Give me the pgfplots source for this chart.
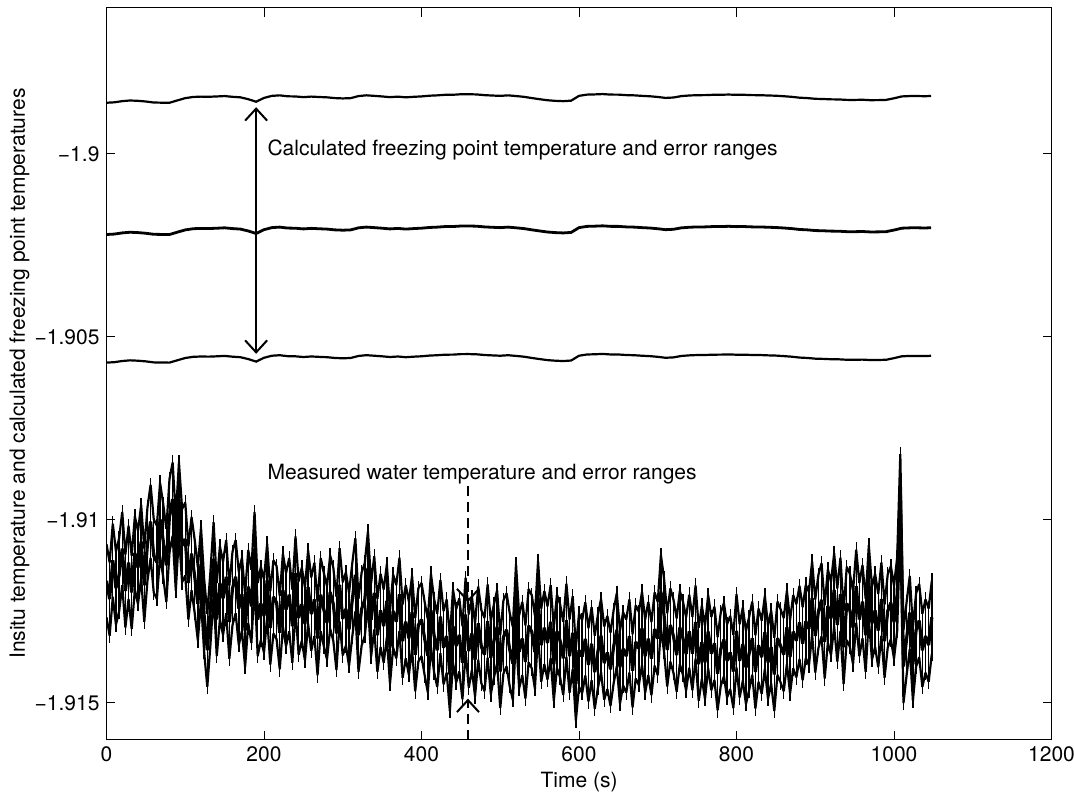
\documentclass[border=0pt]{standalone}
\usepackage{fontspec}
\setmainfont{TeX Gyre Heros}
\usepackage{pgfplots}
\pgfplotsset{compat=1.18}
\usepackage{pgfplotstable}
\usetikzlibrary{arrows.meta}

\pgfplotstableread{
t u m l
0 -1.8986 -1.9022 -1.9057
10 -1.898588 -1.902188 -1.905688
20 -1.898556 -1.902156 -1.905656
30 -1.898538 -1.902138 -1.905638
40 -1.898548 -1.902148 -1.905648
50 -1.898566 -1.902166 -1.905666
60 -1.898594 -1.902194 -1.905694
70 -1.898598 -1.902198 -1.905698
80 -1.8986 -1.9022 -1.9057
90 -1.898536 -1.902136 -1.905636
100 -1.898474 -1.902074 -1.905574
110 -1.898442 -1.902042 -1.905542
120 -1.898433 -1.902033 -1.905533
130 -1.898437 -1.902037 -1.905537
140 -1.898428 -1.902028 -1.905528
150 -1.898417 -1.902017 -1.905517
160 -1.898438 -1.902038 -1.905538
170 -1.898452 -1.902052 -1.905552
180 -1.898503 -1.902103 -1.905603
190 -1.898572 -1.902172 -1.905672
200 -1.898468 -1.902068 -1.905568
210 -1.898412 -1.902012 -1.905512
220 -1.898398 -1.901998 -1.905498
230 -1.898424 -1.902024 -1.905524
240 -1.898428 -1.902028 -1.905528
250 -1.898447 -1.902047 -1.905547
260 -1.898432 -1.902032 -1.905532
270 -1.898443 -1.902043 -1.905543
280 -1.898452 -1.902052 -1.905552
290 -1.898473 -1.902073 -1.905573
300 -1.898482 -1.902082 -1.905582
310 -1.898474 -1.902074 -1.905574
320 -1.898418 -1.902018 -1.905518
330 -1.898397 -1.901997 -1.905497
340 -1.898412 -1.902012 -1.905512
350 -1.898428 -1.902028 -1.905528
360 -1.898447 -1.902047 -1.905547
370 -1.898433 -1.902033 -1.905533
380 -1.898452 -1.902052 -1.905552
390 -1.898438 -1.902038 -1.905538
400 -1.898427 -1.902027 -1.905527
410 -1.898408 -1.902008 -1.905508
420 -1.898398 -1.901998 -1.905498
430 -1.898383 -1.901983 -1.905483
440 -1.898382 -1.901982 -1.905482
450 -1.898368 -1.901968 -1.905468
460 -1.898367 -1.901967 -1.905467
470 -1.898373 -1.901973 -1.905473
480 -1.898392 -1.901992 -1.905492
490 -1.898403 -1.902003 -1.905503
500 -1.898412 -1.902012 -1.905512
510 -1.898398 -1.901998 -1.905498
520 -1.898417 -1.902017 -1.905517
530 -1.898438 -1.902038 -1.905538
540 -1.898472 -1.902072 -1.905572
550 -1.898503 -1.902103 -1.905603
560 -1.898532 -1.902132 -1.905632
570 -1.898548 -1.902148 -1.905648
580 -1.898557 -1.902157 -1.905657
590 -1.898543 -1.902143 -1.905643
600 -1.898412 -1.902012 -1.905512
610 -1.898378 -1.901978 -1.905478
620 -1.898372 -1.901972 -1.905472
630 -1.898363 -1.901963 -1.905463
640 -1.898377 -1.901977 -1.905477
650 -1.898378 -1.901978 -1.905478
660 -1.898392 -1.901992 -1.905492
670 -1.898398 -1.901998 -1.905498
680 -1.898412 -1.902012 -1.905512
690 -1.898423 -1.902023 -1.905523
700 -1.898442 -1.902042 -1.905542
710 -1.898468 -1.902068 -1.905568
720 -1.898457 -1.902057 -1.905557
730 -1.898418 -1.902018 -1.905518
740 -1.898402 -1.902002 -1.905502
750 -1.898393 -1.901993 -1.905493
760 -1.898392 -1.901992 -1.905492
770 -1.898383 -1.901983 -1.905483
780 -1.898382 -1.901982 -1.905482
790 -1.898376 -1.901976 -1.905476
800 -1.898384 -1.901984 -1.905484
810 -1.898383 -1.901983 -1.905483
820 -1.898392 -1.901992 -1.905492
830 -1.898393 -1.901993 -1.905493
840 -1.898402 -1.902002 -1.905502
850 -1.898408 -1.902008 -1.905508
860 -1.898422 -1.902022 -1.905522
870 -1.898438 -1.902038 -1.905538
880 -1.898462 -1.902062 -1.905562
890 -1.898473 -1.902073 -1.905573
900 -1.898492 -1.902092 -1.905592
910 -1.898498 -1.902098 -1.905598
920 -1.898507 -1.902107 -1.905607
930 -1.89851 -1.90211 -1.90561
940 -1.898522 -1.902122 -1.905622
950 -1.898523 -1.902123 -1.905623
960 -1.898518 -1.902118 -1.905618
970 -1.89853 -1.90213 -1.90563
980 -1.898528 -1.902128 -1.905628
990 -1.898522 -1.902122 -1.905622
1000 -1.898478 -1.902078 -1.905578
1010 -1.898427 -1.902027 -1.905527
1020 -1.898418 -1.902018 -1.905518
1030 -1.898417 -1.902017 -1.905517
1040 -1.898422 -1.902022 -1.905522
1047 -1.898413 -1.902013 -1.905513
}\freezing

\pgfplotstableread{
t c u l
0 -1.91166 -1.91066 -1.91266
4 -1.91216 -1.91116 -1.91316
8 -1.9111 -1.9101 -1.9121
12 -1.91186 -1.91086 -1.91286
16 -1.9115 -1.9105 -1.9125
20 -1.91078 -1.90978 -1.91178
24 -1.91194 -1.91094 -1.91294
28 -1.91116 -1.91016 -1.91216
32 -1.91198 -1.91098 -1.91298
36 -1.9109 -1.9099 -1.9119
40 -1.9113 -1.9103 -1.9123
44 -1.91059 -1.90959 -1.91159
48 -1.91178 -1.91078 -1.91278
52 -1.91066 -1.90966 -1.91166
56 -1.91004 -1.90904 -1.91104
60 -1.91098 -1.90998 -1.91198
64 -1.91116 -1.91016 -1.91216
68 -1.90998 -1.90898 -1.91098
72 -1.91056 -1.90956 -1.91156
76 -1.91124 -1.91024 -1.91224
80 -1.90988 -1.90888 -1.91088
84 -1.90943 -1.90843 -1.91043
88 -1.91093 -1.90993 -1.91193
92 -1.90942 -1.90842 -1.91042
96 -1.9107 -1.9097 -1.9117
100 -1.91052 -1.90952 -1.91152
104 -1.91172 -1.91072 -1.91272
108 -1.91092 -1.90992 -1.91192
112 -1.91154 -1.91054 -1.91254
116 -1.91229 -1.91129 -1.91329
120 -1.9112 -1.9102 -1.9122
124 -1.91261 -1.91161 -1.91361
128 -1.91356 -1.91256 -1.91456
132 -1.9124 -1.9114 -1.9134
136 -1.91106 -1.91006 -1.91206
140 -1.91272 -1.91172 -1.91372
144 -1.91172 -1.91072 -1.91272
148 -1.91214 -1.91114 -1.91314
152 -1.91155 -1.91055 -1.91255
156 -1.91279 -1.91179 -1.91379
160 -1.91187 -1.91087 -1.91287
164 -1.91155 -1.91055 -1.91255
168 -1.91242 -1.91142 -1.91342
172 -1.91203 -1.91103 -1.91303
176 -1.91302 -1.91202 -1.91402
180 -1.91182 -1.91082 -1.91282
184 -1.91236 -1.91136 -1.91336
188 -1.91078 -1.90978 -1.91178
192 -1.91272 -1.91172 -1.91372
196 -1.91228 -1.91128 -1.91328
200 -1.91262 -1.91162 -1.91362
204 -1.91165 -1.91065 -1.91265
208 -1.91295 -1.91195 -1.91395
212 -1.9121 -1.9111 -1.9131
216 -1.91226 -1.91126 -1.91326
220 -1.91308 -1.91208 -1.91408
224 -1.91192 -1.91092 -1.91292
228 -1.91245 -1.91145 -1.91345
232 -1.91204 -1.91104 -1.91304
236 -1.9129 -1.9119 -1.9139
240 -1.91145 -1.91045 -1.91245
244 -1.91268 -1.91168 -1.91368
248 -1.9123 -1.9113 -1.9133
252 -1.91284 -1.91184 -1.91384
256 -1.91183 -1.91083 -1.91283
260 -1.91257 -1.91157 -1.91357
264 -1.91217 -1.91117 -1.91317
268 -1.91324 -1.91224 -1.91424
272 -1.91204 -1.91104 -1.91304
276 -1.91245 -1.91145 -1.91345
280 -1.91281 -1.91181 -1.91381
284 -1.91197 -1.91097 -1.91297
288 -1.9123 -1.9113 -1.9133
292 -1.9131 -1.9121 -1.9141
296 -1.91177 -1.91077 -1.91277
300 -1.9127 -1.9117 -1.9137
304 -1.91243 -1.91143 -1.91343
308 -1.91299 -1.91199 -1.91399
312 -1.9122 -1.9112 -1.9132
316 -1.9115 -1.9105 -1.9125
320 -1.91315 -1.91215 -1.91415
324 -1.91243 -1.91143 -1.91343
328 -1.91217 -1.91117 -1.91317
332 -1.91131 -1.91031 -1.91231
336 -1.91273 -1.91173 -1.91373
340 -1.91199 -1.91099 -1.91299
344 -1.91315 -1.91215 -1.91415
348 -1.91247 -1.91147 -1.91347
352 -1.9129 -1.9119 -1.9139
356 -1.91221 -1.91121 -1.91321
360 -1.91348 -1.91248 -1.91448
364 -1.91249 -1.91149 -1.91349
368 -1.91278 -1.91178 -1.91378
372 -1.91203 -1.91103 -1.91303
376 -1.91331 -1.91231 -1.91431
380 -1.91278 -1.91178 -1.91378
384 -1.91323 -1.91223 -1.91423
388 -1.91252 -1.91152 -1.91352
392 -1.91368 -1.91268 -1.91468
396 -1.91287 -1.91187 -1.91387
400 -1.91272 -1.91172 -1.91372
404 -1.91324 -1.91224 -1.91424
408 -1.91371 -1.91271 -1.91471
412 -1.91247 -1.91147 -1.91347
416 -1.91316 -1.91216 -1.91416
420 -1.91356 -1.91256 -1.91456
424 -1.91264 -1.91164 -1.91364
428 -1.91349 -1.91249 -1.91449
432 -1.91317 -1.91217 -1.91417
436 -1.91422 -1.91322 -1.91522
440 -1.9129 -1.9119 -1.9139
444 -1.91344 -1.91244 -1.91444
448 -1.91314 -1.91214 -1.91414
452 -1.9139 -1.9129 -1.9149
456 -1.91258 -1.91158 -1.91358
460 -1.91358 -1.91258 -1.91458
464 -1.9131 -1.9121 -1.9141
468 -1.91382 -1.91282 -1.91482
472 -1.91282 -1.91182 -1.91382
476 -1.91346 -1.91246 -1.91446
480 -1.91368 -1.91268 -1.91468
484 -1.91276 -1.91176 -1.91376
488 -1.91376 -1.91276 -1.91476
492 -1.9133 -1.9123 -1.9143
496 -1.91292 -1.91192 -1.91392
500 -1.91414 -1.91314 -1.91514
504 -1.9132 -1.9122 -1.9142
508 -1.913 -1.912 -1.914
512 -1.91354 -1.91254 -1.91454
516 -1.91392 -1.91292 -1.91492
520 -1.9122 -1.9112 -1.9132
524 -1.9136 -1.9126 -1.9146
528 -1.91324 -1.91224 -1.91424
532 -1.91388 -1.91288 -1.91488
536 -1.91289 -1.91189 -1.91389
540 -1.91305 -1.91205 -1.91405
544 -1.91361 -1.91261 -1.91461
548 -1.91212 -1.91112 -1.91312
552 -1.91342 -1.91242 -1.91442
556 -1.91294 -1.91194 -1.91394
560 -1.91336 -1.91236 -1.91436
564 -1.91278 -1.91178 -1.91378
568 -1.91394 -1.91294 -1.91494
572 -1.91304 -1.91204 -1.91404
576 -1.9133 -1.9123 -1.9143
580 -1.91378 -1.91278 -1.91478
584 -1.91274 -1.91174 -1.91374
588 -1.91372 -1.91272 -1.91472
592 -1.91308 -1.91208 -1.91408
596 -1.91448 -1.91348 -1.91548
600 -1.91356 -1.91256 -1.91456
604 -1.91373 -1.91273 -1.91473
608 -1.91325 -1.91225 -1.91425
612 -1.91396 -1.91296 -1.91496
616 -1.91338 -1.91238 -1.91438
620 -1.91416 -1.91316 -1.91516
624 -1.91359 -1.91259 -1.91459
628 -1.91316 -1.91216 -1.91416
632 -1.91391 -1.91291 -1.91491
636 -1.91362 -1.91262 -1.91462
640 -1.91408 -1.91308 -1.91508
644 -1.91346 -1.91246 -1.91446
648 -1.913 -1.912 -1.914
652 -1.91402 -1.91302 -1.91502
656 -1.91352 -1.91252 -1.91452
660 -1.91372 -1.91272 -1.91472
664 -1.91317 -1.91217 -1.91417
668 -1.91412 -1.91312 -1.91512
672 -1.91333 -1.91233 -1.91433
676 -1.91351 -1.91251 -1.91451
680 -1.91296 -1.91196 -1.91396
684 -1.91372 -1.91272 -1.91472
688 -1.91324 -1.91224 -1.91424
692 -1.91379 -1.91279 -1.91479
696 -1.91298 -1.91198 -1.91398
700 -1.91324 -1.91224 -1.91424
704 -1.91196 -1.91096 -1.91296
708 -1.9126 -1.9116 -1.9136
712 -1.91355 -1.91255 -1.91455
716 -1.91287 -1.91187 -1.91387
720 -1.91318 -1.91218 -1.91418
724 -1.91369 -1.91269 -1.91469
728 -1.91294 -1.91194 -1.91394
732 -1.91323 -1.91223 -1.91423
736 -1.91366 -1.91266 -1.91466
740 -1.91304 -1.91204 -1.91404
744 -1.91365 -1.91265 -1.91465
748 -1.91279 -1.91179 -1.91379
752 -1.91394 -1.91294 -1.91494
756 -1.91334 -1.91234 -1.91434
760 -1.91389 -1.91289 -1.91489
764 -1.91305 -1.91205 -1.91405
768 -1.91365 -1.91265 -1.91465
772 -1.91337 -1.91237 -1.91437
776 -1.9142 -1.9132 -1.9152
780 -1.91353 -1.91253 -1.91453
784 -1.91327 -1.91227 -1.91427
788 -1.91385 -1.91285 -1.91485
792 -1.91362 -1.91262 -1.91462
796 -1.91414 -1.91314 -1.91514
800 -1.91303 -1.91203 -1.91403
804 -1.91385 -1.91285 -1.91485
808 -1.91339 -1.91239 -1.91439
812 -1.91403 -1.91303 -1.91503
816 -1.91365 -1.91265 -1.91465
820 -1.91323 -1.91223 -1.91423
824 -1.91415 -1.91315 -1.91515
828 -1.91342 -1.91242 -1.91442
832 -1.91375 -1.91275 -1.91475
836 -1.91307 -1.91207 -1.91407
840 -1.91389 -1.91289 -1.91489
844 -1.91347 -1.91247 -1.91447
848 -1.91422 -1.91322 -1.91522
852 -1.91323 -1.91223 -1.91423
856 -1.91344 -1.91244 -1.91444
860 -1.91368 -1.91268 -1.91468
864 -1.91293 -1.91193 -1.91393
868 -1.91374 -1.91274 -1.91474
872 -1.91305 -1.91205 -1.91405
876 -1.9133 -1.9123 -1.9143
880 -1.9128 -1.9118 -1.9138
884 -1.91338 -1.91238 -1.91438
888 -1.91277 -1.91177 -1.91377
892 -1.91297 -1.91197 -1.91397
896 -1.91213 -1.91113 -1.91313
900 -1.91317 -1.91217 -1.91417
904 -1.9125 -1.9115 -1.9135
908 -1.91218 -1.91118 -1.91318
912 -1.91333 -1.91233 -1.91433
916 -1.91235 -1.91135 -1.91335
920 -1.91269 -1.91169 -1.91369
924 -1.91191 -1.91091 -1.91291
928 -1.91287 -1.91187 -1.91387
932 -1.91203 -1.91103 -1.91303
936 -1.91348 -1.91248 -1.91448
940 -1.91228 -1.91128 -1.91328
944 -1.91247 -1.91147 -1.91347
948 -1.91294 -1.91194 -1.91394
952 -1.91181 -1.91081 -1.91281
956 -1.91272 -1.91172 -1.91372
960 -1.91223 -1.91123 -1.91323
964 -1.91315 -1.91215 -1.91415
968 -1.91169 -1.91069 -1.91269
972 -1.91282 -1.91182 -1.91382
976 -1.91247 -1.91147 -1.91347
980 -1.91302 -1.91202 -1.91402
984 -1.91216 -1.91116 -1.91316
988 -1.91331 -1.91231 -1.91431
992 -1.91249 -1.91149 -1.91349
996 -1.91226 -1.91126 -1.91326
1000 -1.91279 -1.91179 -1.91379
1004 -1.91203 -1.91103 -1.91303
1008 -1.9092 -1.9082 -1.9102
1012 -1.914 -1.913 -1.915
1016 -1.91324 -1.91224 -1.91424
1020 -1.91253 -1.91153 -1.91353
1024 -1.91394 -1.91294 -1.91494
1028 -1.91301 -1.91201 -1.91401
1032 -1.91275 -1.91175 -1.91375
1036 -1.91356 -1.91256 -1.91456
1040 -1.91317 -1.91217 -1.91417
1044 -1.91342 -1.91242 -1.91442
1048 -1.91266 -1.91166 -1.91366
}\measured

\begin{document}
\begin{tikzpicture}
\begin{axis}[
  at={(0,0)}, anchor=south west,
  scale only axis, width=472.5pt, height=366pt,
  xmin=0, xmax=1200, ymin=-1.916, ymax=-1.896,
  xtick={0,200,400,600,800,1000,1200},
  xticklabels={0,200,400,600,800,1000,1200},
  ytick={-1.915,-1.91,-1.905,-1.9},
  yticklabels={−1.915,−1.91,−1.905,−1.9},
  tick align=inside, major tick length=4.5pt,
  tick style={black, line width=0.5pt},
  axis line style={black, line width=0.6pt},
  ticklabel style={font=\fontsize{10.5}{12}\selectfont},
  label style={font=\fontsize{10.5}{12}\selectfont},
  xlabel={Time (s)},
  ylabel={Insitu temperature and calculated freezing point temperatures},
  xlabel style={at={(axis description cs:0.5,-0.0574)}, anchor=center},
  ylabel style={at={(axis description cs:-0.0921,0.5)}, anchor=center},
]
\addplot[black, line width=1.1pt] table[x=t,y=u]{\freezing};
\addplot[black, line width=1.4pt] table[x=t,y=m]{\freezing};
\addplot[black, line width=1.1pt] table[x=t,y=l]{\freezing};
% measured temperature: vertical spread of the error ranges at each sample
\addplot[draw=none, no markers, error bars/.cd, y dir=both, y fixed=0.0012,
  error mark=none, error bar style={line width=0.7pt, black, solid}]
  table[x=t,y=c]{\measured};
\addplot[black, line width=1.1pt, line join=bevel] table[x=t,y=u]{\measured};
\addplot[black, line width=1.1pt, line join=bevel] table[x=t,y=l]{\measured};
\addplot[black, line width=1.6pt, line join=bevel] table[x=t,y=c]{\measured};

\draw[{Straight Barb[length=6pt,width=11pt]}-{Straight Barb[length=6pt,width=11pt]}, line width=1pt]
  (axis cs:190,-1.89872) -- (axis cs:190,-1.90546);
\node[anchor=west, inner sep=0pt, font=\fontsize{10.5}{12}\selectfont]
  at (axis cs:204,-1.8999) {Calculated freezing point temperature and error ranges};
\node[anchor=west, inner sep=0pt, font=\fontsize{10.5}{12}\selectfont]
  at (axis cs:204,-1.90876) {Measured water temperature and error ranges};
\draw[-{Straight Barb[length=6pt,width=11pt]}, dash pattern=on 5pt off 3pt, line width=1pt]
  (axis cs:459,-1.90908) -- (axis cs:459,-1.91225);
\draw[-{Straight Barb[length=6pt,width=11pt]}, dash pattern=on 5pt off 3pt, line width=1pt]
  (axis cs:459,-1.916) -- (axis cs:459,-1.91488);
\end{axis}
\pgfresetboundingbox
\useasboundingbox (-53.25pt,-28pt) rectangle (483.75pt,369.8pt);
\end{tikzpicture}
\end{document}
